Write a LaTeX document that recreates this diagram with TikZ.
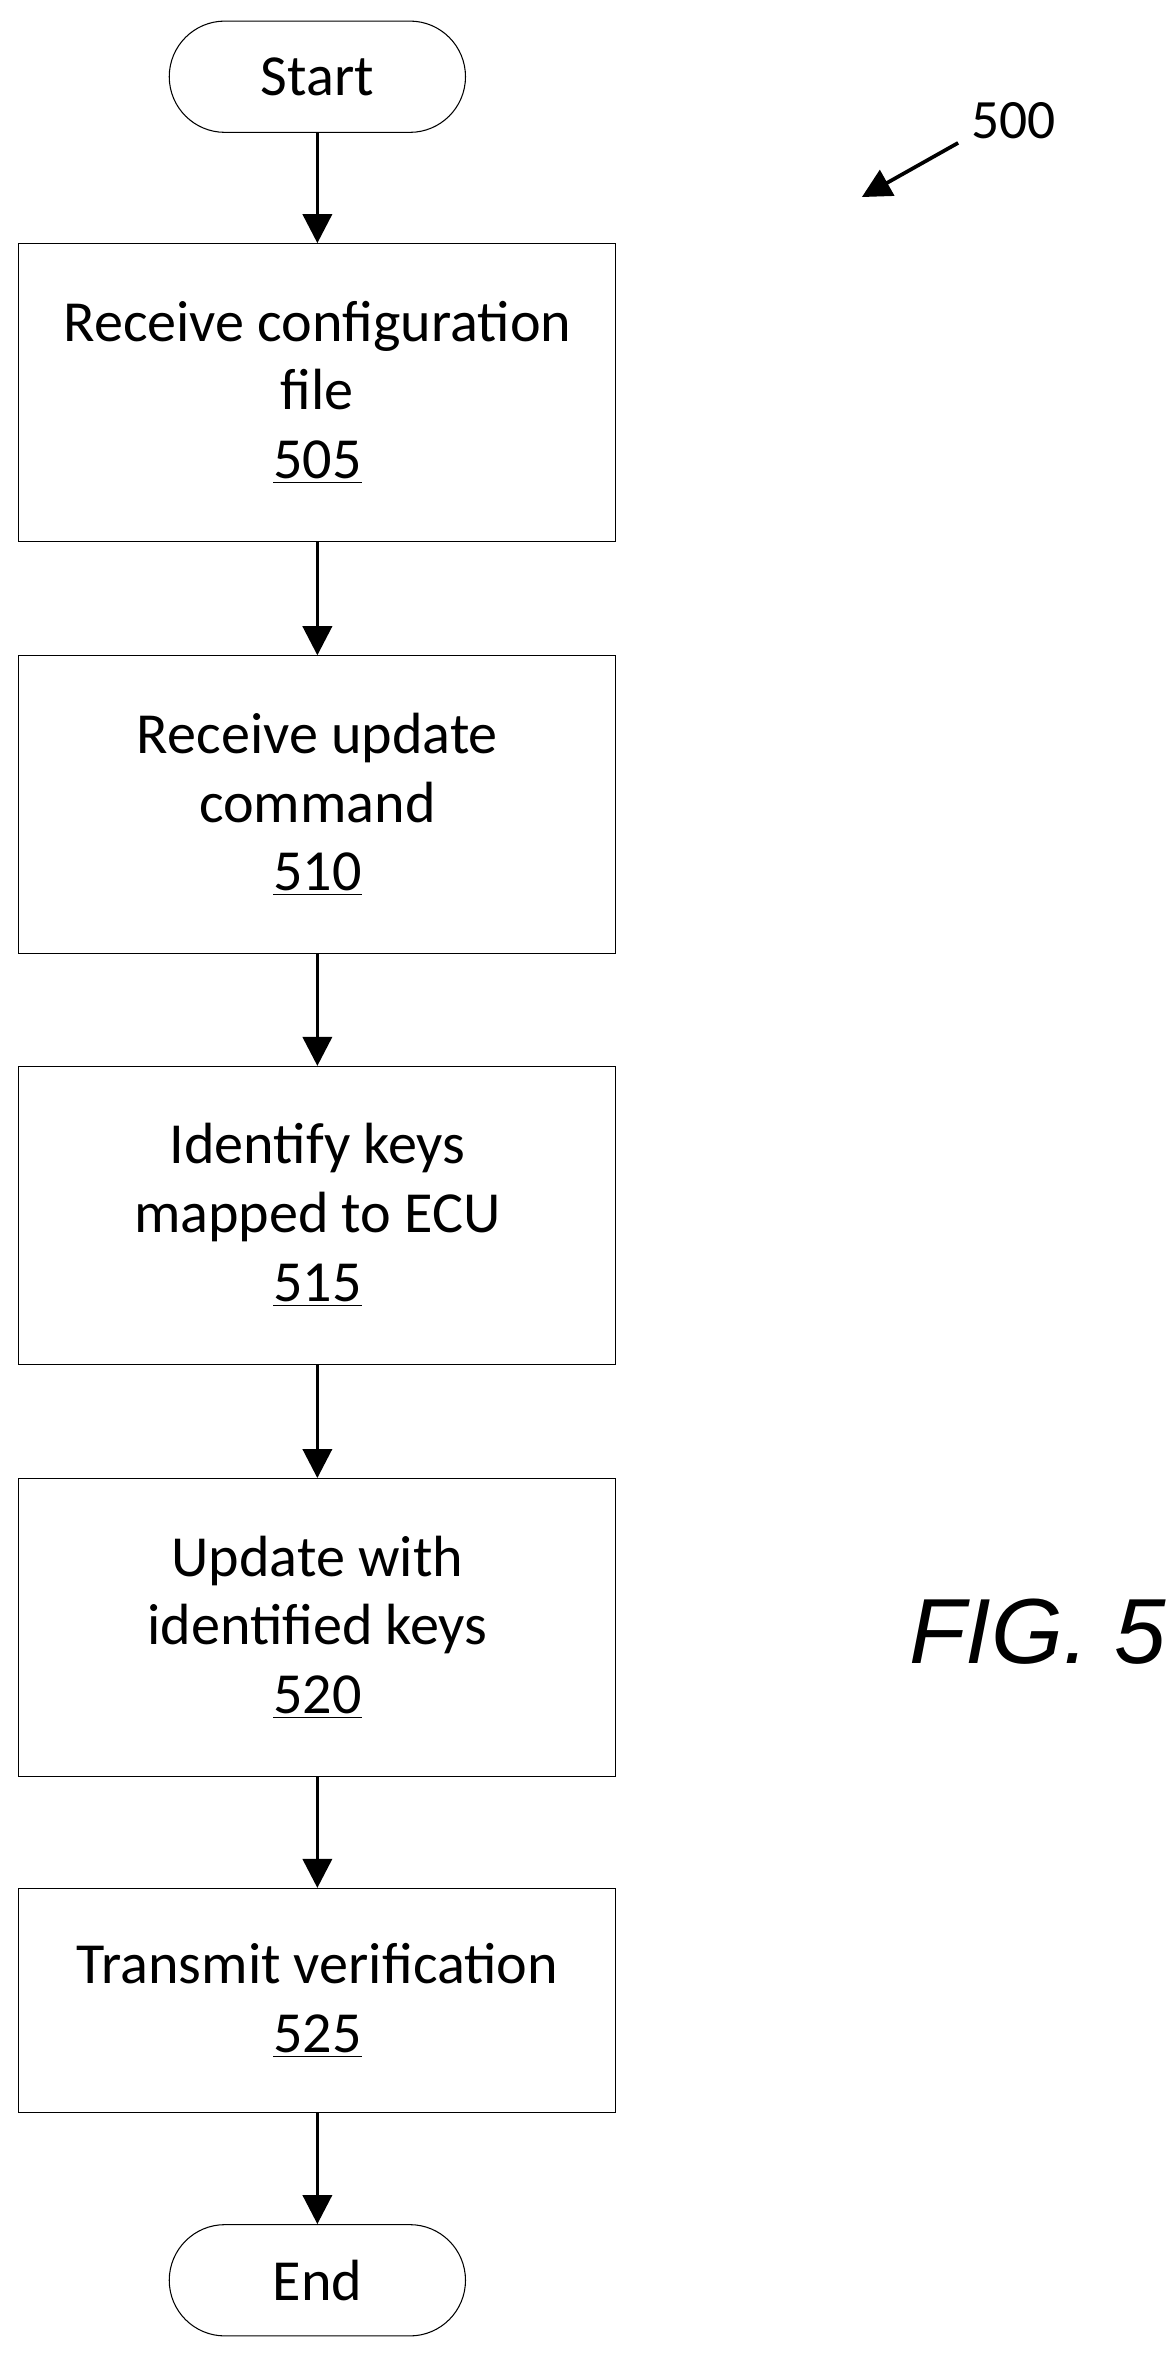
\documentclass[tikz,border=0pt]{standalone}
\usepackage{fontspec}
\setmainfont{Carlito}
\newfontfamily\figfont{Liberation Sans}
\usetikzlibrary{shapes,arrows.meta,positioning}

\begin{document}
\begin{tikzpicture}[
    x=0.02cm, y=-0.02cm,
    box/.style={rectangle, draw, line width=0.4pt, minimum width=7.94cm, minimum height=3.96cm, align=center, font=\fontsize{22}{26}\selectfont},
    term/.style={rectangle, rounded corners=0.74cm, draw, line width=0.4pt, minimum width=3.94cm, minimum height=1.48cm, font=\fontsize{22}{26}\selectfont},
    flow/.style={-{Triangle[length=11pt,width=11pt]}, line width=1.4pt}
]
    \useasboundingbox (0,0) rectangle (776,1573);

    % Terminals and steps
    \node[term] (start) at (211,51) {Start};
    \node[box] (s505) at (211,261) {Receive configuration\\file\\\underline{505}};
    \node[box] (s510) at (211,535) {Receive update\\command\\\underline{510}};
    \node[box] (s515) at (211,808) {Identify keys\\mapped to ECU\\\underline{515}};
    \node[box] (s520) at (211,1082) {Update with\\identified keys\\\underline{520}};
    \node[box, minimum height=2.98cm] (s525) at (211,1330) {Transmit verification\\\underline{525}};
    \node[term] (end) at (211,1516) {End};

    % Flow
    \draw[flow] (start) -- (s505);
    \draw[flow] (s505) -- (s510);
    \draw[flow] (s510) -- (s515);
    \draw[flow] (s515) -- (s520);
    \draw[flow] (s520) -- (s525);
    \draw[flow] (s525) -- (end);

    % Reference label
    \node[font=\fontsize{21}{24}\selectfont] (ref) at (674,80) {500};
    \coordinate (reftail) at (637,95);
    \coordinate (reftip) at (573,131);
    \draw[flow] (reftail) -- (reftip);

    \node[font=\figfont\itshape\fontsize{35}{40}\selectfont] (fig) at (690,1085) {FIG. 5};
\end{tikzpicture}
\end{document}
